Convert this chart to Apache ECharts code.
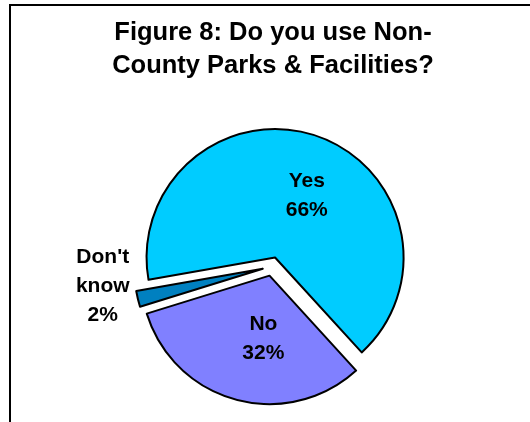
<!DOCTYPE html>
<html>
<head>
<meta charset="utf-8">
<script src="https://cdn.jsdelivr.net/npm/echarts@6/dist/echarts.min.js"></script>
<style>
html,body{margin:0;padding:0;background:#fff;}
#chart{width:530px;height:422px;}
</style>
</head>
<body>
<div id="chart"></div>
<script>
const categories = ['Yes', 'No', "Don't know"];
const labelLines = [['Yes'], ['No'], ["Don't", 'know']];
const values = [66, 32, 2];
const colors = ['#00CCFF', '#8080FF', '#0080C0'];

const FONT = 'Liberation Sans, Arial, sans-serif';
const chart = echarts.init(document.getElementById('chart'), null, {renderer: 'canvas'});

const itemLabels = [
  {position: 'inside', padding: [4, 0, 0, 20]},
  {position: 'inside', padding: [0, 0, 4, 23]},
  {position: 'outside', alignTo: 'edge', edgeDistance: 84, padding: [0, 0, 25, 0]}
];

const data = categories.map((c, i) => ({
  name: c,
  value: values[i],
  selected: true,
  itemStyle: {color: colors[i]},
  label: itemLabels[i],
  labelLine: {show: false, length: 0, length2: 0}
}));

chart.setOption({
  animation: false,
  backgroundColor: '#fff',
  title: {
    text: 'Figure 8: Do you use Non-\nCounty Parks & Facilities?',
    left: 273,
    top: 16.5,
    textAlign: 'center',
    padding: 0,
    textStyle: {
      fontFamily: FONT,
      fontWeight: 'bold',
      fontSize: 25.5,
      lineHeight: 33,
      color: '#000'
    }
  },
  graphic: [{
    type: 'rect',
    shape: {x: 10, y: 5, width: 600, height: 500},
    style: {fill: 'none', stroke: '#000', lineWidth: 2},
    silent: true
  }],
  series: [{
    type: 'pie',
    center: [272, 266.5],
    radius: 128.5,
    startAngle: 190,
    clockwise: true,
    selectedMode: 'multiple',
    selectedOffset: 9.5,
    avoidLabelOverlap: false,
    emphasis: {disabled: true},
    itemStyle: {borderColor: '#000', borderWidth: 2},
    label: {
      show: true,
      color: '#000',
      fontFamily: FONT,
      fontWeight: 'bold',
      fontSize: 21,
      lineHeight: 29,
      formatter: p => labelLines[p.dataIndex].concat([p.value + '%']).map(s => '{c|' + s + '}').join('\n'),
      rich: {
        c: {
          width: 56,
          align: 'center',
          color: '#000',
          fontFamily: FONT,
          fontWeight: 'bold',
          fontSize: 21,
          lineHeight: 29
        }
      }
    },
    labelLine: {show: false},
    data: data
  }]
});
</script>
</body>
</html>
